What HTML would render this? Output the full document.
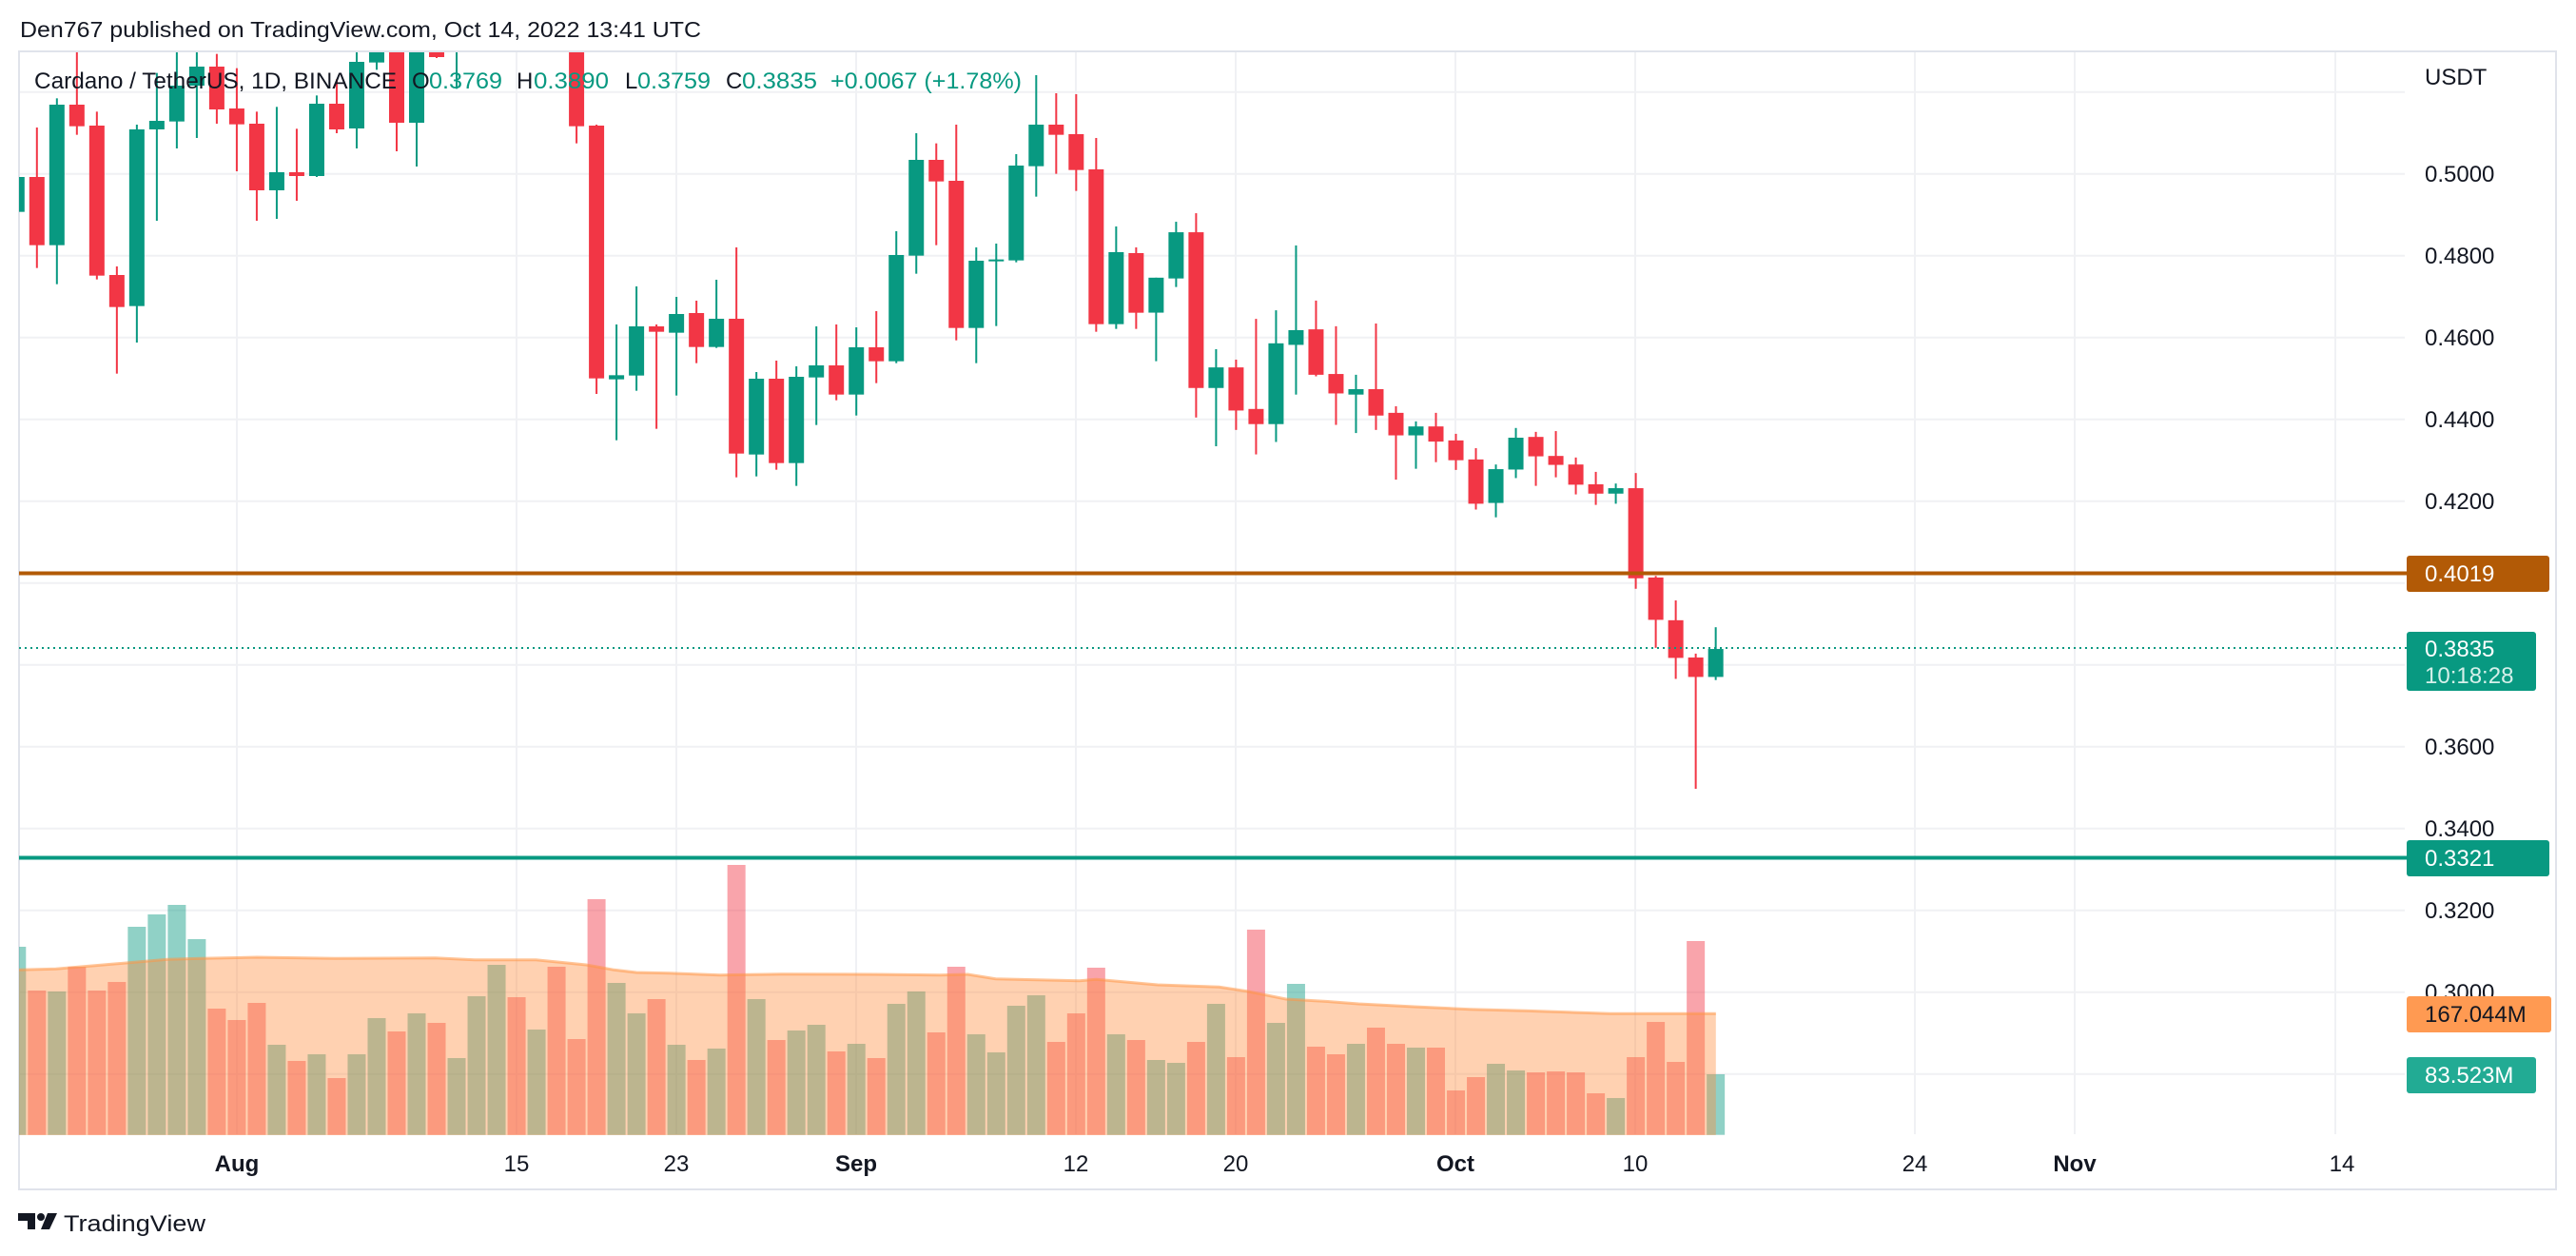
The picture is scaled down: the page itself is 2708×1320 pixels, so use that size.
<!DOCTYPE html>
<html><head><meta charset="utf-8"><style>
html,body{margin:0;padding:0;background:#fff;}
svg{display:block;}
text{font-family:"Liberation Sans",sans-serif;}
</style></head><body>
<svg id="s" width="2708" height="1320" xmlns="http://www.w3.org/2000/svg">
<rect width="2708" height="1320" fill="#fff"/>
<defs><clipPath id="plot"><rect x="20" y="55" width="2508" height="1138"/></clipPath></defs>
<g id="grid"></g>
<g id="vol" clip-path="url(#plot)"></g>
<g id="candles" clip-path="url(#plot)"></g>
<g id="over"></g>
</svg>
<script>
const NS="http://www.w3.org/2000/svg";
function el(p,t,a,txt){const e=document.createElementNS(NS,t);for(const k in a)e.setAttribute(k,a[k]);if(txt!==undefined)e.textContent=txt;document.getElementById(p).appendChild(e);return e;}
const G="#089981",R="#F23645";
// grid
for(let y=96.7;y<1193;y+=86){el("grid","line",{x1:20,x2:2528,y1:y,y2:y,stroke:"#F0F1F4","stroke-width":2});}
[249,543,711,900,1131,1299,1530,1719,2013,2181,2455].forEach(x=>el("grid","line",{x1:x,x2:x,y1:55,y2:1192,stroke:"#F0F1F4","stroke-width":2}));
// borders
el("grid","rect",{x:20,y:54,width:2667,height:1196,fill:"none",stroke:"#E0E3EB","stroke-width":2});
// volume
const vt=[[285,1],[423,0],[426,1],[348,0],[423,0],[396,0],[222,1],[183,1],[153,1],[261,1],[480,0],[516,0],[462,0],[594,1],[645,0],[624,1],[699,0],[624,1],[510,1],[552,0],[495,1],[525,0],[636,1],[441,1],[342,1],[444,0],[546,1],[348,0],[576,0],[135,0],[399,1],[495,1],[450,0],[594,1],[642,0],[606,1],[27,0],[450,1],[579,0],[549,1],[531,1],[615,0],[591,1],[636,0],[465,1],[426,1],[555,0],[348,0],[561,1],[618,1],[471,1],[438,1],[585,0],[495,0],[351,0],[561,1],[579,0],[642,1],[651,1],[585,0],[465,1],[633,0],[231,0],[525,1],[402,1],[600,0],[624,0],[591,1],[540,0],[591,0],[603,1],[603,0],[738,0],[696,0],[654,1],[675,1],[681,0],[678,0],[681,0],[747,0],[762,1],[633,0],[522,0],[648,0],[267,0],[687,1]];
const X=i=>17.8+i*21.01;
vt.forEach((v,i)=>{const y=900+v[0]/3;el("vol","rect",{x:X(i)-9.5,y:y,width:19,height:1192.7-y,fill:v[1]?"rgba(8,153,129,0.45)":"rgba(242,54,69,0.45)"});});
// MA area
const m6=[[0,358],[100,355],[200,340],[300,325],[360,322],[460,318],[600,322],[780,320],[850,326],[960,326],[1050,342],[1100,358],[1140,366],[1200,368],[1290,374],[1400,371],[1568,372]];
const m7=[[150,374],[200,372],[250,386],[400,392],[430,388],[540,405],[650,412],[700,425],[770,450],[850,458],[900,465],[1000,474],[1100,482],[1200,487],[1350,496],[1450,496],[1540,496]];
let pts=m6.map(p=>[Math.max(20,p[0]/1.704),900+p[1]/3]).concat(m7.map(p=>[900+p[0]/1.704,900+p[1]/3]));
let line=pts.map(p=>p[0].toFixed(1)+","+p[1].toFixed(1)).join(" ");
el("vol","polygon",{points:line+" "+pts[pts.length-1][0].toFixed(1)+",1193 20,1193",fill:"rgba(255,140,60,0.4)"});
el("vol","polyline",{points:line,fill:"none",stroke:"rgba(255,150,70,0.55)","stroke-width":3});
// candles: [color, wickTop, bodyTop, bodyBot, wickBot], zoom coords; sys A: y=60+z/3, sys B: y=200+z/2.45
const A=[[1,378,378,488,488],[0,222,378,593,665],[1,130,150,593,716],[0,-60,150,218,245],[0,172,216,689,701],[0,660,687,788,998],[1,213,228,785,900],[1,50,201,228,516],[1,-20,90,203,288],[1,-40,30,90,255],[0,-10,30,165,210],[0,35,162,212,360],[0,172,210,420,516],[1,157,363,420,510],[0,226,363,375,453],[1,121,147,375,378],[0,70,147,228,240],[1,-20,15,225,288],[1,-40,-20,17,40],[0,-60,-20,207,297],[1,-60,-20,207,345],[0,-60,-40,0,3],[1,-60,-40,-20,100],null,null,null,null,null,
[0,-60,-30,218,272],[0,213,216,1013,1062],[1,843,1003,1016,1208],[1,723,849,1004,1052],[0,843,849,866,1172],[1,756,810,869,1067],[0,768,807,914,965],[1,702,825,914,917],[0,600,825,1250,1325],[1,993,1014,1253,1322],[0,957,1014,1280,1301],[1,975,1008,1280,1352],[1,849,972,1010,1160],[0,843,972,1064,1082],[1,852,915,1064,1130],[0,801,915,959,1028],[1,549,624,959,965],[1,240,324,626,683],[0,272,324,392,593],[0,213,390,854,893],[1,600,642,854,965],[1,588,638,644,848],[1,306,342,641,647],[1,57,213,344,440],[0,114,213,245,368],[0,117,243,356,422],[0,255,354,842,866],[1,534,615,842,857],[0,600,618,806,857]];
const B=[[1,225,225,315,440],[1,81,108,227,249],[0,59,108,509,585],[1,409,456,509,659],[0,436,456,567,617],[0,331,563,602,680],[1,309,394,602,648],[1,142,360,398,526],[0,284,358,475,479],[0,350,473,523,604],[1,475,512,526,625],[0,343,512,580,617],[0,556,573,631,745],[1,595,608,631,717],[0,573,608,647,700],[0,627,644,695,720],[0,664,693,807,822],[1,706,718,805,842],[1,612,637,719,741],[0,622,635,685,761],[0,620,684,707,739],[0,688,706,758,783],[0,725,757,781,810],[1,755,767,781,807],[0,728,767,999,1026],[0,993,997,1106,1178],[0,1056,1107,1204,1258],[0,1193,1203,1253,1541],[1,1125,1181,1253,1261]];
function drawC(i,c,f){if(!c)return;const col=c[0]?G:R,x=X(i);const wt=f(c[1]),bt=f(c[2]),bb=f(c[3]),wb=f(c[4]);
el("candles","rect",{x:x-1,y:wt,width:2,height:Math.max(1,wb-wt),fill:col});
el("candles","rect",{x:x-8,y:bt,width:16,height:Math.max(2,bb-bt),fill:col});}
A.forEach((c,i)=>drawC(i,c,z=>60+z/3));
B.forEach((c,j)=>drawC(57+j,c,z=>200+z/2.45));
// horizontal lines
el("over","line",{x1:20,x2:2530,y1:681,y2:681,stroke:G,"stroke-width":2,"stroke-dasharray":"2,4"});
el("over","rect",{x:20,y:600.5,width:2510,height:4,fill:"#B25A06"});
el("over","rect",{x:20,y:899.5,width:2510,height:4,fill:"#089981"});
// price labels
const PL=[["0.5000",182.7],["0.4800",268.7],["0.4600",354.7],["0.4400",440.7],["0.4200",526.7],["0.3600",784.7],["0.3400",870.7],["0.3200",956.7],["0.3000",1042.7]];
PL.forEach(p=>el("over","text",{x:2549,y:p[1]+8.5,"font-size":24,fill:"#131722"},p[0]));
el("over","text",{x:2549,y:89,"font-size":24,fill:"#131722"},"USDT");
// boxes
el("over","rect",{x:2530,y:584,width:150,height:38,rx:3,fill:"#B25A06"});
el("over","text",{x:2549,y:611,"font-size":24,fill:"#fff"},"0.4019");
el("over","rect",{x:2530,y:664,width:136,height:62,rx:3,fill:G});
el("over","text",{x:2549,y:690,"font-size":24,fill:"#fff"},"0.3835");
el("over","text",{x:2549,y:718,"font-size":24,fill:"#d5f0ea"},"10:18:28");
el("over","rect",{x:2530,y:883,width:150,height:38,rx:3,fill:G});
el("over","text",{x:2549,y:910,"font-size":24,fill:"#fff"},"0.3321");
el("over","rect",{x:2530,y:1047,width:152,height:38,rx:3,fill:"#FF9A52"});
el("over","text",{x:2549,y:1074,"font-size":24,fill:"#131722"},"167.044M");
el("over","rect",{x:2530,y:1111,width:136,height:38,rx:3,fill:"#22AB94"});
el("over","text",{x:2549,y:1138,"font-size":24,fill:"#fff"},"83.523M");
// x labels
const XL=[["Aug",249,1],["15",543,0],["23",711,0],["Sep",900,1],["12",1131,0],["20",1299,0],["Oct",1530,1],["10",1719,0],["24",2013,0],["Nov",2181,1],["14",2462,0]];
XL.forEach(l=>el("over","text",{x:l[1],y:1231,"font-size":24,"text-anchor":"middle",fill:"#131722","font-weight":l[2]?"bold":"normal"},l[0]));
// header
el("over","text",{x:21,y:39,"font-size":23,fill:"#131722",textLength:716,lengthAdjust:"spacingAndGlyphs"},"Den767 published on TradingView.com, Oct 14, 2022 13:41 UTC");
const LG=[["Cardano / TetherUS, 1D, BINANCE",36,381,"#131722"],["O",433,0,"#131722"],["0.3769",451,77,G],["H",543,0,"#131722"],["0.3890",561,79,G],["L",657,0,"#131722"],["0.3759",670,77,G],["C",763,0,"#131722"],["0.3835",780,79,G],["+0.0067 (+1.78%)",873,201,G]];
LG.forEach(l=>{const a={x:l[1],y:93,"font-size":24,fill:l[3]};if(l[2]){a.textLength=l[2];a.lengthAdjust="spacingAndGlyphs";}el("over","text",a,l[0]);});
// logo
el("over","path",{d:"M19 1275h18v17h-8v-9h-10z",fill:"#131722"});
el("over","circle",{cx:43,cy:1279,r:4,fill:"#131722"});
el("over","path",{d:"M50 1275h10l-8 17h-9z",fill:"#131722"});
el("over","text",{x:67,y:1294,"font-size":24,fill:"#131722",textLength:149,lengthAdjust:"spacingAndGlyphs"},"TradingView");
</script>
</body></html>
